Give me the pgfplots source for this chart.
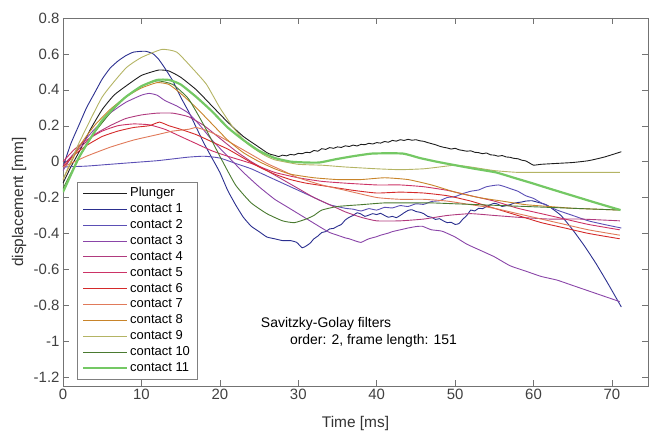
\documentclass[border=0pt]{standalone}
\usepackage{fontspec}
\setmainfont{Liberation Sans}
\usepackage{pgfplots}
\pgfplotsset{compat=1.18}
\definecolor{cP}{HTML}{1E1E1E}
\definecolor{c1}{HTML}{2B2F8F}
\definecolor{c2}{HTML}{5B4FB5}
\definecolor{c3}{HTML}{8A45A8}
\definecolor{c4}{HTML}{B03A7E}
\definecolor{c5}{HTML}{CC3366}
\definecolor{c6}{HTML}{D42A2A}
\definecolor{c7}{HTML}{E07A5A}
\definecolor{c8}{HTML}{C8842A}
\definecolor{c9}{HTML}{B4B464}
\definecolor{c10}{HTML}{4A7A30}
\definecolor{c11}{HTML}{74C864}
\begin{document}
\begin{tikzpicture}
\useasboundingbox (-63bp,-51bp) rectangle (588bp,386bp);
\begin{axis}[
  at={(0,0)}, anchor=south west,
  scale only axis, width=585bp, height=368bp,
  xmin=0, xmax=74.6, ymin=-1.25, ymax=0.8,
  xtick={0,10,...,70},
  ytick={-1.2,-1,-0.8,-0.6,-0.4,-0.2,0,0.2,0.4,0.6,0.8},
  yticklabels={-1.2,-1,-0.8,-0.6,-0.4,-0.2,0,0.2,0.4,0.6,0.8},
  xticklabels={0,10,20,30,40,50,60,70},
  tick align=inside, major tick length=6bp,
  axis line style={black!55},
  every tick/.style={black!55},
  tick label style={font=\fontsize{15}{15}\selectfont, text=black!75},
  /pgf/number format/assume math mode=true,
  xlabel={Time [ms]}, ylabel={displacement [mm]},
  label style={font=\fontsize{15.5}{15.5}\selectfont, text=black!80},
  xlabel style={at={(axis description cs:0.5,-0.103)}, anchor=center},
  ylabel style={at={(axis description cs:-0.075,0.5)}, anchor=center},
  legend cell align=left,
  legend image code/.code={\draw[#1] (0bp,0bp) -- (44bp,0bp);},
  legend style={at={(axis description cs:0.0239,0.554)}, anchor=north west,
    draw=black!50, fill=white, font=\fontsize{13}{13}\selectfont,
    nodes={text height=9.5bp, text depth=2.8bp, inner sep=1.8bp},
    row sep=0pt, inner xsep=5bp, inner ysep=3bp},
  every axis plot/.append style={line width=0.9bp, smooth, tension=0.3},
]
\addplot[cP] coordinates {(0,-0.12) (1,-0.03) (2,0.05) (3.5,0.18) (5,0.29) (6.5,0.37) (8,0.42) (10,0.48) (12.2,0.51) (13.5,0.505) (15,0.47) (17,0.4) (19,0.31) (21,0.22) (23,0.14) (25,0.08) (26,0.05) (26.5,0.04) (27,0.035) (27.5,0.028) (28,0.036) (28.5,0.032) (29,0.04) (29.5,0.037) (30,0.046) (30.5,0.044) (31,0.052) (31.5,0.05) (32,0.062) (32.5,0.058) (33,0.072) (33.5,0.068) (34,0.078) (34.5,0.074) (35,0.082) (35.5,0.079) (36,0.088) (36.5,0.084) (37,0.092) (37.5,0.087) (38,0.096) (38.5,0.094) (39,0.102) (39.5,0.098) (40,0.106) (40.5,0.103) (41,0.112) (41.5,0.108) (42,0.118) (42.5,0.114) (43,0.122) (43.5,0.118) (44,0.124) (44.5,0.119) (45,0.122) (45.5,0.116) (46,0.113) (46.5,0.106) (47,0.1) (47.5,0.094) (48,0.086) (48.5,0.08) (49,0.076) (49.5,0.07) (50,0.074) (50.5,0.066) (51,0.062) (51.5,0.058) (52,0.06) (52.5,0.052) (53,0.05) (53.5,0.044) (54,0.048) (54.5,0.038) (55,0.036) (55.5,0.03) (56,0.034) (56.5,0.026) (57,0.024) (57.5,0.018) (58,0.016) (58.5,0.008) (59,0.004) (59.5,-0.008) (60,-0.02) (61,-0.015) (63,-0.01) (65,-0.005) (67,0.005) (69,0.025) (71.2,0.055)};
\addlegendentry{Plunger}
\addplot[c1] coordinates {(0,-0.03) (1,0.1) (2,0.2) (3,0.3) (4,0.38) (5,0.46) (6,0.52) (7,0.56) (8,0.59) (9,0.61) (10.5,0.615) (11.5,0.6) (12.2,0.57) (13,0.52) (14,0.45) (15,0.36) (16,0.28) (17,0.19) (18,0.1) (19,0.02) (20,-0.06) (21,-0.16) (22,-0.24) (23,-0.31) (24,-0.36) (25,-0.39) (26,-0.42) (27,-0.43) (28,-0.44) (29,-0.44) (29.8,-0.45) (30.5,-0.48) (31,-0.47) (31.5,-0.455) (32,-0.43) (32.5,-0.415) (33,-0.395) (33.5,-0.39) (34,-0.375) (34.5,-0.372) (35,-0.36) (35.5,-0.35) (36,-0.325) (36.5,-0.31) (37,-0.3) (37.5,-0.285) (38,-0.292) (38.5,-0.305) (39,-0.298) (39.5,-0.29) (40,-0.295) (40.5,-0.288) (41,-0.3) (41.5,-0.31) (42,-0.305) (42.5,-0.312) (43,-0.3) (43.5,-0.285) (44,-0.272) (44.5,-0.268) (45,-0.278) (45.5,-0.282) (46,-0.29) (46.5,-0.305) (47,-0.31) (47.5,-0.322) (48,-0.318) (48.5,-0.33) (49,-0.34) (49.5,-0.338) (50,-0.35) (50.5,-0.345) (51,-0.32) (51.5,-0.3) (52,-0.27) (52.5,-0.275) (53,-0.26) (53.5,-0.262) (54,-0.25) (54.5,-0.24) (55,-0.232) (55.5,-0.238) (56,-0.25) (56.5,-0.245) (57,-0.24) (57.5,-0.232) (58,-0.228) (58.5,-0.225) (59,-0.22) (59.8,-0.218) (60.5,-0.226) (61,-0.232) (61.5,-0.238) (62,-0.25) (63.5,-0.3) (65,-0.38) (66.5,-0.47) (68,-0.57) (69.5,-0.68) (71.2,-0.81)};
\addlegendentry{contact 1}
\addplot[c2] coordinates {(0,-0.03) (3,-0.025) (6,-0.015) (9,-0.005) (12,0.005) (14,0.015) (16,0.025) (18,0.03) (20,0.02) (22,-0.01) (24,-0.04) (26,-0.08) (28,-0.12) (30,-0.16) (32,-0.2) (34,-0.24) (36,-0.26) (37,-0.265) (38,-0.275) (39,-0.262) (40,-0.27) (41,-0.255) (42,-0.258) (43,-0.245) (44,-0.25) (45,-0.235) (46,-0.238) (47,-0.222) (48,-0.218) (49,-0.2) (50,-0.195) (51,-0.178) (52,-0.165) (53,-0.158) (54,-0.14) (55.5,-0.13) (56.5,-0.142) (57,-0.15) (58,-0.165) (59,-0.19) (60,-0.205) (61,-0.23) (63,-0.27) (65,-0.3) (67,-0.33) (69,-0.35) (71.2,-0.37)};
\addlegendentry{contact 2}
\addplot[c3] coordinates {(0,-0.05) (1,0.02) (2,0.08) (3,0.13) (4,0.18) (5,0.22) (6,0.27) (8,0.33) (10,0.37) (11,0.38) (12,0.37) (13,0.34) (14.5,0.31) (16,0.27) (17.5,0.2) (19,0.12) (21,0.03) (23,-0.06) (25,-0.14) (27,-0.21) (28.5,-0.25) (30,-0.29) (31.5,-0.33) (33,-0.37) (34,-0.395) (35,-0.41) (36,-0.425) (36.5,-0.43) (37.5,-0.445) (38,-0.45) (38.5,-0.44) (39,-0.43) (40,-0.418) (40.5,-0.41) (41.5,-0.398) (42,-0.39) (43,-0.38) (44,-0.37) (45,-0.362) (45.8,-0.36) (46.5,-0.372) (47,-0.38) (48,-0.385) (48.5,-0.39) (50,-0.42) (51.5,-0.46) (53,-0.49) (55,-0.53) (57,-0.58) (59,-0.61) (61,-0.64) (63,-0.66) (65,-0.69) (67,-0.72) (69,-0.75) (71,-0.78)};
\addlegendentry{contact 3}
\addplot[c4] coordinates {(0,-0.02) (2,0.07) (4,0.15) (6,0.2) (8,0.24) (10,0.26) (12,0.27) (14,0.27) (16,0.25) (18,0.2) (20,0.13) (22,0.06) (24,0.0) (26,-0.05) (28,-0.1) (30,-0.15) (32,-0.2) (34,-0.24) (36,-0.28) (38,-0.31) (40,-0.33) (43,-0.33) (46,-0.32) (49,-0.3) (52,-0.29) (55,-0.3) (58,-0.31) (62,-0.32) (66,-0.32) (71,-0.33)};
\addlegendentry{contact 4}
\addplot[c5] coordinates {(0,0) (1.5,0.07) (3,0.12) (5,0.17) (7,0.2) (9,0.21) (11,0.205) (13,0.18) (15,0.14) (17,0.1) (19,0.06) (21,0.03) (24,-0.01) (27,-0.06) (30,-0.09) (33,-0.11) (36,-0.12) (40,-0.13) (43,-0.13) (46,-0.14) (49,-0.16) (52,-0.19) (55,-0.22) (58,-0.26) (61,-0.29) (64,-0.32) (67,-0.35) (71,-0.38)};
\addlegendentry{contact 5}
\addplot[c6] coordinates {(0,-0.03) (1.5,0.04) (3,0.09) (5,0.14) (7,0.17) (9,0.19) (11,0.2) (12.3,0.22) (13.5,0.2) (15,0.18) (17,0.15) (19,0.11) (21,0.07) (23,0.02) (25,-0.03) (27,-0.07) (29,-0.1) (31,-0.12) (34,-0.14) (37,-0.16) (40,-0.175) (43,-0.17) (46,-0.175) (49,-0.19) (52,-0.22) (55,-0.26) (58,-0.3) (61,-0.34) (64,-0.37) (67,-0.4) (71,-0.43)};
\addlegendentry{contact 6}
\addplot[c7] coordinates {(0,-0.03) (3,0.03) (6,0.08) (9,0.12) (12,0.15) (14,0.17) (16,0.18) (17,0.19) (18.5,0.17) (20,0.14) (22,0.09) (24,0.04) (26,-0.01) (28,-0.05) (30,-0.09) (33,-0.13) (36,-0.16) (40,-0.2) (43,-0.21) (46,-0.21) (49,-0.22) (52,-0.24) (55,-0.26) (58,-0.29) (61,-0.32) (64,-0.35) (67,-0.38) (71,-0.41)};
\addlegendentry{contact 7}
\addplot[c8] coordinates {(0,-0.1) (2,0.08) (4,0.2) (6,0.29) (8,0.36) (10,0.41) (12,0.44) (13.5,0.43) (15,0.38) (17,0.3) (19,0.21) (21,0.12) (23,0.05) (25,0.0) (27,-0.04) (29,-0.07) (32,-0.09) (35,-0.1) (38,-0.1) (41,-0.09) (44,-0.1) (47,-0.13) (50,-0.17) (53,-0.2) (56,-0.22) (59,-0.24) (62,-0.25) (65,-0.26) (68,-0.265) (71,-0.27)};
\addlegendentry{contact 8}
\addplot[c9] coordinates {(0,-0.1) (2,0.1) (5,0.36) (8,0.52) (10,0.58) (12.6,0.625) (14.5,0.61) (16.5,0.52) (18.3,0.43) (20,0.3) (21.7,0.19) (23.5,0.1) (25.5,0.04) (27,0.01) (30,-0.015) (33,-0.02) (36,-0.03) (40,-0.04) (43,-0.045) (46,-0.04) (48,-0.03) (50,-0.02) (52,-0.03) (55,-0.05) (58,-0.06) (62,-0.06) (66,-0.06) (71,-0.06)};
\addlegendentry{contact 9}
\addplot[c10] coordinates {(0,-0.15) (2,0.02) (4,0.16) (6,0.27) (8,0.36) (10,0.42) (12,0.45) (14,0.43) (16,0.35) (18,0.2) (20,0.03) (22,-0.13) (24,-0.23) (26,-0.29) (28,-0.33) (29.5,-0.34) (31,-0.32) (32,-0.3) (33,-0.27) (35,-0.25) (38,-0.24) (41,-0.23) (44,-0.23) (47,-0.23) (50,-0.235) (53,-0.24) (56,-0.245) (59,-0.25) (62,-0.255) (65,-0.26) (68,-0.265) (71,-0.27)};
\addlegendentry{contact 10}
\addplot[c11, line width=2.2bp] coordinates {(0,-0.17) (2,0.02) (3.5,0.13) (5,0.23) (6.5,0.3) (8,0.36) (10,0.42) (12,0.455) (13.5,0.455) (15,0.43) (17,0.36) (19,0.28) (21,0.19) (23,0.12) (25,0.06) (27,0.02) (29,0.0) (31,-0.005) (32.7,-0.005) (35,0.015) (37,0.03) (39.5,0.045) (43.3,0.045) (45.5,0.02) (47.6,0.0) (50,-0.02) (52.5,-0.04) (55.2,-0.06) (57.5,-0.09) (59.8,-0.12) (62,-0.15) (65,-0.19) (68,-0.23) (71.1,-0.27)};
\addlegendentry{contact 11}
\node[anchor=west, font=\fontsize{14}{14}\selectfont] at (axis cs:24.8,-0.903) {Savitzky-Golay filters};
\node[anchor=west, font=\fontsize{14}{14}\selectfont] at (axis cs:28.5,-0.998) {order: 2, frame length: 151};
\end{axis}
\end{tikzpicture}
\end{document}
